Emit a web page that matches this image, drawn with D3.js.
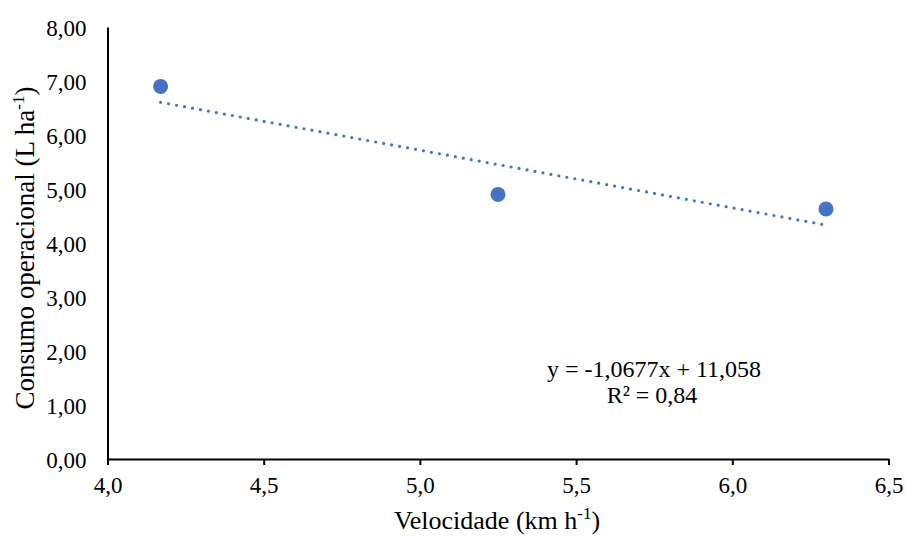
<!DOCTYPE html>
<html><head><meta charset="utf-8">
<script src="https://cdn.jsdelivr.net/npm/d3@7"></script>
<style>body{margin:0;background:#fff;} text{font-family:"Liberation Serif","Times New Roman",serif;fill:#000;}</style>
</head><body>
<svg id="c" width="906" height="538"></svg>
<script>
const velocidade = [4.17, 5.25, 6.30];
const consumo = [6.90, 4.90, 4.63];
const xTicks = [4.0, 4.5, 5.0, 5.5, 6.0, 6.5];
const yTicks = [0, 1, 2, 3, 4, 5, 6, 7, 8];
const slope = -1.0677, intercept = 11.058;
const eqText = "y = -1,0677x + 11,058";
const r2Text = "R² = 0,84";

const svg = d3.select("#c");
const x = d3.scaleLinear().domain([4.0, 6.5]).range([107.5, 888.5]);
const y = d3.scaleLinear().domain([0, 8]).range([459, 27]);
const fmt1 = d => d.toFixed(1).replace(".", ",");
const fmt2 = d => d.toFixed(2).replace(".", ",");

// x axis
const xa = svg.append("g").attr("transform", "translate(0,459)")
  .call(d3.axisBottom(x).tickValues(xTicks).tickFormat(fmt1).tickSize(6).tickSizeOuter(0));
xa.attr("font-size", null).attr("font-family", null);
xa.select(".domain").attr("stroke", "#000").attr("stroke-width", 2);
xa.selectAll(".tick line").attr("stroke", "#000").attr("stroke-width", 2);
xa.selectAll(".tick text").style("font-size", "23px").attr("dy", 0).attr("y", 34);

// y axis
const ya = svg.append("g").attr("transform", "translate(107.5,0)")
  .call(d3.axisLeft(y).tickValues(yTicks).tickFormat(fmt2).tickSize(0).tickPadding(21));
ya.attr("font-size", null).attr("font-family", null);
ya.select(".domain").attr("stroke", "#000").attr("stroke-width", 2);
ya.selectAll(".tick text").style("font-size", "23px").attr("dy", "0.35em");

// axis titles
const xt = svg.append("text").attr("x", 497).attr("y", 529).attr("text-anchor", "middle").style("font-size", "26px");
xt.append("tspan").text("Velocidade  (km h");
xt.append("tspan").style("font-size", "17px").attr("dy", -10).text("-1");
xt.append("tspan").attr("dy", 10).text(")");

const yt = svg.append("text").attr("transform", "translate(34,248) rotate(-90)").attr("text-anchor", "middle").style("font-size", "27px");
yt.append("tspan").text("Consumo operacional (L ha");
yt.append("tspan").style("font-size", "17px").attr("dy", -10).text("-1");
yt.append("tspan").attr("dy", 10).text(")");

// trendline
const xmin = d3.min(velocidade), xmax = d3.max(velocidade);
svg.append("line")
  .attr("x1", x(xmin)).attr("y1", y(slope * xmin + intercept))
  .attr("x2", x(xmax)).attr("y2", y(slope * xmax + intercept))
  .attr("stroke", "#4472C4").attr("stroke-width", 3.2)
  .attr("stroke-linecap", "round").attr("stroke-dasharray", "0 8.1");

// points
svg.selectAll("circle.pt").data(velocidade).join("circle")
  .attr("class", "pt")
  .attr("cx", d => x(d)).attr("cy", (d, i) => y(consumo[i])).attr("r", 7.5)
  .attr("fill", "#4472C4");

// equation
svg.append("text").attr("x", 654).attr("y", 377).attr("text-anchor", "middle").style("font-size", "24px").text(eqText);
svg.append("text").attr("x", 652).attr("y", 403).attr("text-anchor", "middle").style("font-size", "24px").text(r2Text);
</script>
</body></html>
